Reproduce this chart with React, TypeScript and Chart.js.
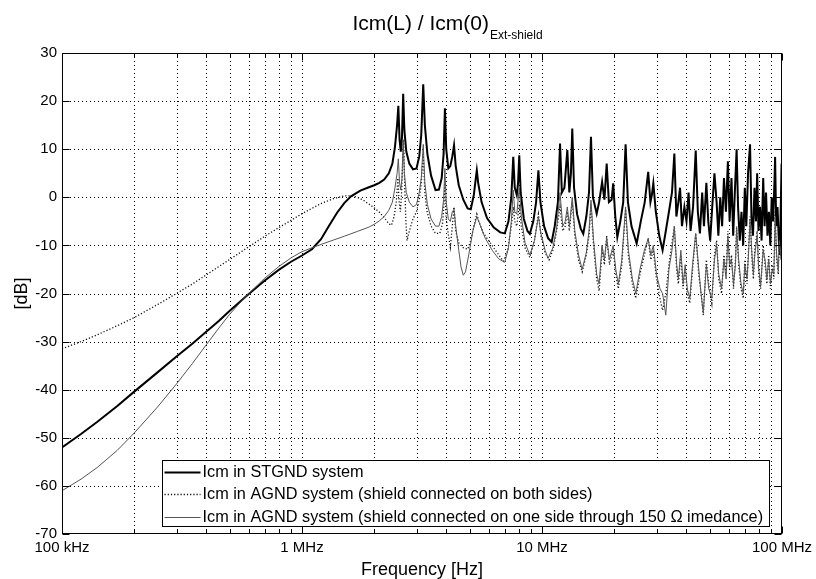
import React, { useEffect, useRef } from "react";
import { Chart, registerables } from "chart.js";

Chart.register(...registerables);

// ---------- texts ----------
const titleMain = "Icm(L) / Icm(0)";
const titleSub = "Ext-shield";
const xAxisTitle = "Frequency [Hz]";
const yAxisTitle = "[dB]";
const seriesNames = [
  "Icm in STGND system",
  "Icm in AGND system (shield connected on both sides)",
  "Icm in AGND system (shield connected on one side through 150 \u03A9 imedance)",
];

// ---------- axes ----------
const xMinHz = 1e5;
const xMaxHz = 1e8;
const xDecadesHz = [1e5, 1e6, 1e7, 1e8];
const xDecadeLabels = ["100 kHz", "1 MHz", "10 MHz", "100 MHz"];
const xMinorMultipliers = [1, 2, 3, 4, 5, 6, 7, 8, 9];
const yMin = -70;
const yMax = 30;
const yTicks = [30, 20, 10, 0, -10, -20, -30, -40, -50, -60, -70];

// ---------- data: [frequency MHz, level dB] ----------
const stgnd: [number, number][] = [
  [0.1, -52], [0.12, -49.2], [0.14, -46.7], [0.17, -43.4], [0.2, -40.4], [0.25, -36.4], [0.3, -33.1],
  [0.35, -30.4], [0.4, -27.9], [0.45, -25.7], [0.5, -23.6], [0.6, -20.1], [0.7, -17.3], [0.8, -15.1],
  [0.9, -13.4], [1.0, -12.1], [1.1, -10.8], [1.2, -8.7], [1.3, -5.8], [1.4, -3.2], [1.5, -1.2], [1.6, 0.2],
  [1.75, 1.4], [1.9, 2.1], [2.0, 2.5], [2.1, 3.0], [2.2, 3.7], [2.3, 5.0], [2.38, 7.0], [2.44, 10.5],
  [2.49, 15], [2.52, 19], [2.55, 12], [2.58, 9.5], [2.61, 12.5], [2.64, 21.5], [2.67, 14], [2.72, 9.5],
  [2.8, 7], [2.9, 5.8], [3.0, 6.0], [3.08, 8.5], [3.14, 13], [3.2, 23.5], [3.25, 15], [3.33, 9], [3.45, 4.5],
  [3.6, 1.5], [3.72, 1.6], [3.82, 4], [3.89, 9], [3.94, 18.5], [3.99, 10], [4.07, 6], [4.15, 6.5], [4.23, 8.5],
  [4.3, 10.8], [4.37, 6.5], [4.5, 2.5], [4.7, -0.5], [4.9, -2.3], [5.05, -2.5], [5.2, 0.5], [5.3, 4],
  [5.35, 5.6], [5.42, 3], [5.6, -1], [5.9, -4.3], [6.3, -6.3], [6.7, -7.3], [7.0, -7.5], [7.25, -5],
  [7.45, 0], [7.59, 8.4], [7.7, 2], [7.85, 0.5], [7.95, 3], [8.04, 8.75], [8.15, 1], [8.4, -4.5], [8.7, -7],
  [8.9, -7.6], [9.2, -5], [9.45, -1], [9.66, 5.6], [9.85, -1], [10.2, -6], [10.6, -8.5], [10.97, -9.3],
  [11.3, -6], [11.65, -1], [11.89, 11.2], [12.1, 1], [12.4, 2], [12.75, 9.8], [13.0, 1], [13.2, 5],
  [13.37, 14.3], [13.6, 2], [14.0, -3.5], [14.5, -6.5], [14.86, -7.6], [15.3, -4], [15.7, 1], [16.0, 12.6],
  [16.3, 0], [16.9, -3.4], [17.3, -1], [17.8, 3.2], [18.2, -0.5], [18.6, 7], [19.0, -1], [19.5, -0.5],
  [19.8, 2.9], [20.2, -4], [20.6, -8.3], [21.2, -5], [21.8, -1], [22.3, 11], [22.8, -1], [23.6, -6],
  [24.8, -9.6], [25.8, -5], [26.8, -1], [27.7, 5.3], [28.3, -1], [28.7, 0.5], [29.1, 2.9], [29.8, -3],
  [30.8, -8], [31.8, -11], [32.8, -7], [33.8, -3], [34.8, 1], [35.6, 9.1], [36.3, -4], [37.0, -1], [37.6, 2],
  [38.3, -6], [39.2, -2], [40.0, -5], [40.8, 1], [41.6, -7], [42.6, -2], [43.7, 9.7], [44.6, -3], [45.5, -7.5],
  [46.5, 1], [47.3, -6], [48.4, 3], [49.3, -5], [50.2, -9], [51.2, -2], [52.3, 5], [53.4, -1], [54.3, -8],
  [55.3, 0], [56.3, -6], [57.3, 4], [58.4, -3], [59.5, 7.5], [60.5, -5], [61.6, 4], [62.6, -8], [63.6, 1],
  [64.7, 10], [65.6, -2], [66.7, -9], [67.8, -3], [68.9, -10], [70.0, 2], [71.0, -6], [72.2, 5], [73.6, 11],
  [74.6, -4], [75.7, -8], [76.8, 2], [77.9, -5], [78.8, 5], [79.8, -7], [81.0, -2], [82.2, -9], [83.5, 4],
  [84.6, -6], [85.8, 1], [87.0, -8], [88.2, -3], [89.4, -10], [90.6, 0], [91.8, -5], [93.0, 3], [93.6, 8.4],
  [94.6, -6], [95.8, -2], [97.0, -9], [98.0, -12], [99.0, 0], [99.6, 7], [100, -3],
];

const agndBoth: [number, number][] = [
  [0.1, -31.5], [0.12, -30.0], [0.14, -28.6], [0.17, -26.7], [0.2, -25.0], [0.25, -22.3], [0.3, -20.0],
  [0.35, -18.0], [0.4, -16.1], [0.5, -12.9], [0.6, -10.3], [0.7, -8.1], [0.8, -6.3], [0.9, -4.8], [1.0, -3.4],
  [1.1, -2.3], [1.2, -1.3], [1.35, -0.3], [1.5, 0.3], [1.6, 0.3], [1.7, 0], [1.8, -0.6], [1.9, -1.4],
  [2.0, -2.2], [2.1, -3.1], [2.2, -4.2], [2.3, -5.5], [2.36, -5.8], [2.42, -4], [2.47, -1], [2.51, 4],
  [2.54, -1], [2.57, -3], [2.6, 1], [2.63, 8], [2.65, 12], [2.68, 2], [2.71, -5], [2.74, -9], [2.8, -7],
  [2.9, -4.5], [3.0, -3], [3.08, -0.5], [3.14, 3], [3.2, 9], [3.25, 1], [3.32, -3], [3.45, -6], [3.6, -7.5],
  [3.75, -7.5], [3.85, -5.5], [3.91, -1], [3.94, 3], [3.98, -4], [4.05, -7], [4.15, -10.4], [4.23, -6],
  [4.3, -2], [4.37, -7], [4.5, -9.5], [4.7, -10.5], [4.9, -10.8], [5.05, -9], [5.2, -6], [5.35, -3.5],
  [5.45, -5], [5.7, -7.5], [6.0, -9], [6.5, -11.5], [6.9, -13.3], [7.2, -11], [7.45, -6], [7.59, -2],
  [7.7, -5], [7.85, -6], [8.04, -1.5], [8.2, -6], [8.5, -10.5], [8.9, -12.5], [9.3, -9], [9.66, -3.5],
  [9.9, -8], [10.3, -11.5], [10.7, -13], [11.1, -11], [11.5, -7], [11.89, -2], [12.2, -7], [12.5, -6],
  [12.75, -3], [13.0, -7], [13.37, -1], [13.7, -8], [14.2, -13], [14.7, -15.5], [15.3, -12], [15.7, -8],
  [16.0, -1.5], [16.4, -10], [16.9, -17], [17.3, -19.5], [17.8, -11], [18.2, -14], [18.6, -8], [19.1, -14],
  [19.8, -11], [20.3, -16], [20.8, -19], [21.5, -14], [22.3, -2.5], [22.9, -12], [23.8, -18], [24.6, -21],
  [25.6, -16], [26.7, -12], [27.7, -8.5], [28.4, -13], [29.1, -11], [30.0, -17], [31.0, -21], [31.8, -23.5],
  [32.8, -20], [34.0, -13], [35.6, -6], [36.4, -15], [37.0, -18], [37.9, -12], [38.7, -19], [39.5, -15],
  [40.3, -20], [41.3, -22], [42.4, -15], [43.7, -7.5], [45.0, -16], [46.0, -20], [47.0, -24.5], [48.4, -13],
  [49.5, -18], [51.0, -22], [52.3, -12], [53.4, -9], [54.5, -17], [56.0, -20], [57.3, -12], [58.5, -16],
  [59.5, -7], [60.5, -15], [61.6, -12], [62.8, -19], [64.0, -13], [64.7, -6], [66.0, -14], [67.5, -19],
  [69.0, -21], [70.0, -13], [71.5, -18], [72.5, -11], [73.6, -4], [75.0, -13], [76.0, -17], [77.0, -11],
  [78.8, -7], [80.0, -16], [81.5, -19], [83.5, -10], [85.0, -14], [86.5, -18], [88.0, -12], [89.5, -19],
  [91.0, -14], [92.5, -17], [93.6, -3], [95.0, -13], [96.5, -16], [97.5, -8], [99.0, -13], [100, -9],
];

const agndOne: [number, number][] = [
  [0.1, -61], [0.12, -58.6], [0.14, -56.2], [0.17, -52.6], [0.2, -49.0], [0.25, -43.6], [0.3, -38.8],
  [0.35, -34.5], [0.4, -30.6], [0.45, -27.2], [0.5, -24.3], [0.55, -22.0], [0.6, -20.0], [0.7, -16.8],
  [0.8, -14.4], [0.9, -12.6], [1.0, -11.3], [1.1, -10.5], [1.2, -9.8], [1.35, -8.9], [1.5, -8.1], [1.7, -7.1],
  [1.9, -6.2], [2.0, -5.6], [2.1, -4.9], [2.2, -4.0], [2.3, -2.7], [2.38, -1], [2.44, 2], [2.49, 5], [2.52, 8],
  [2.55, 3], [2.58, 1.5], [2.61, 4], [2.64, 12], [2.67, 5], [2.72, 1], [2.8, -1], [2.9, -2], [3.0, -1.5],
  [3.08, 1], [3.14, 4], [3.2, 11], [3.25, 3], [3.33, -1.5], [3.45, -4.5], [3.6, -6], [3.72, -6], [3.82, -4],
  [3.89, -0.5], [3.94, 6], [3.99, -1], [4.07, -4.5], [4.15, -5], [4.23, -3], [4.3, -2.5], [4.37, -6],
  [4.5, -11], [4.6, -14.5], [4.7, -16.2], [4.8, -15.5], [4.95, -12], [5.15, -7], [5.35, -4], [5.5, -5.5],
  [5.8, -8.5], [6.2, -11], [6.6, -12.8], [7.0, -13.5], [7.25, -10.5], [7.45, -5], [7.59, 1.5], [7.7, -3],
  [7.85, -3.5], [8.04, 2], [8.2, -4], [8.5, -9.5], [8.9, -12], [9.3, -9], [9.66, -4], [9.9, -7.5],
  [10.3, -11], [10.6, -12.7], [11.1, -10.5], [11.5, -6.5], [11.89, 1], [12.2, -6], [12.5, -5], [12.75, -2],
  [13.0, -6], [13.37, 0], [13.7, -7], [14.2, -12], [14.7, -15], [15.3, -11.5], [15.7, -7], [16.0, -0.6],
  [16.4, -9], [16.9, -16], [17.3, -18], [17.8, -10], [18.2, -13], [18.6, -8.5], [19.1, -13], [19.8, -10],
  [20.3, -15], [20.8, -18], [21.5, -13], [22.3, -2], [22.9, -11], [23.8, -17], [24.6, -20], [25.6, -15],
  [26.7, -11], [27.7, -8.6], [28.4, -12], [29.1, -10], [30.0, -16], [31.0, -19], [31.8, -20], [32.8, -24.5],
  [33.8, -15], [34.8, -11], [35.6, -6.1], [36.4, -14], [37.0, -17], [37.9, -11], [38.7, -18], [39.5, -14],
  [40.3, -19], [41.3, -21], [42.4, -14], [43.7, -7.5], [45.0, -15], [46.0, -20], [47.0, -24], [48.4, -14],
  [49.5, -19], [51.0, -21], [52.3, -13], [53.4, -10], [54.5, -16], [56.0, -19], [57.3, -13], [58.5, -17],
  [59.5, -8], [60.5, -14], [61.6, -13], [62.8, -18], [64.0, -14], [64.7, -6.5], [66.0, -13], [67.5, -18],
  [69.0, -20], [70.0, -14], [71.5, -17], [72.5, -12], [73.6, -4.5], [75.0, -12], [76.0, -16], [77.0, -12],
  [78.8, -8], [80.0, -15], [81.5, -18], [83.5, -11], [85.0, -13], [86.5, -17], [88.0, -13], [89.5, -18],
  [91.0, -15], [92.5, -16], [93.6, -4], [95.0, -12], [96.5, -15], [97.5, -9], [99.0, -12], [100, -8],
];

// ---------- look ----------
const FONT = "'Liberation Sans', Arial, Helvetica, sans-serif";
const styles = [
  { color: "#000000", width: 2, dash: [] as number[] },
  { color: "#111111", width: 1.3, dash: [1.2, 2] },
  { color: "#555555", width: 1, dash: [] as number[] },
];

const toPoints = (s: [number, number][]) => s.map(([f, d]) => ({ x: f * 1e6, y: d }));

const xGridHz: number[] = [];
xDecadesHz.slice(0, 3).forEach((dec) => xMinorMultipliers.forEach((m) => xGridHz.push(dec * m)));
xGridHz.push(xMaxHz);

const axesPlugin = {
  id: "matlabAxes",
  beforeDatasetsDraw(chart: any) {
    const { ctx, chartArea: a, scales } = chart;
    ctx.save();
    ctx.strokeStyle = "#000";
    ctx.lineWidth = 1;
    ctx.setLineDash([1, 3]);
    xGridHz.forEach((v) => {
      const px = Math.round(scales.x.getPixelForValue(v)) + 0.5;
      if (px <= a.left + 1 || px >= a.right - 1) return;
      ctx.beginPath();
      ctx.moveTo(px, a.top);
      ctx.lineTo(px, a.bottom);
      ctx.stroke();
    });
    yTicks.forEach((v) => {
      const py = Math.round(scales.y.getPixelForValue(v)) + 0.5;
      if (py <= a.top + 1 || py >= a.bottom - 1) return;
      ctx.beginPath();
      ctx.moveTo(a.left, py);
      ctx.lineTo(a.right, py);
      ctx.stroke();
    });
    ctx.restore();
  },
  afterDatasetsDraw(chart: any) {
    const { ctx, chartArea: a, scales } = chart;
    const L = Math.round(a.left) + 0.5;
    const R = Math.round(a.right) - 0.5;
    const T = Math.round(a.top) + 0.5;
    const B = Math.round(a.bottom) - 0.5;
    ctx.save();
    ctx.setLineDash([]);
    ctx.strokeStyle = "#000";
    ctx.lineWidth = 1;
    xGridHz.forEach((v) => {
      const px = Math.round(scales.x.getPixelForValue(v)) + 0.5;
      const major = xDecadesHz.includes(v);
      const len = major ? 7 : 3.6;
      ctx.beginPath();
      ctx.moveTo(px, B);
      ctx.lineTo(px, B - len);
      ctx.moveTo(px, T);
      ctx.lineTo(px, T + len);
      ctx.stroke();
    });
    yTicks.forEach((v) => {
      const py = Math.round(scales.y.getPixelForValue(v)) + 0.5;
      ctx.beginPath();
      ctx.moveTo(L, py);
      ctx.lineTo(L + 7, py);
      ctx.moveTo(R, py);
      ctx.lineTo(R - 7, py);
      ctx.stroke();
    });
    ctx.strokeRect(L, T, R - L, B - T);

    // legend box
    const bx = 162.5, by = 460.5, bw = 607, bh = 66;
    ctx.fillStyle = "#fff";
    ctx.fillRect(bx, by, bw, bh);
    ctx.strokeStyle = "#000";
    ctx.strokeRect(bx, by, bw, bh);
    ctx.font = `16.3px ${FONT}`;
    ctx.textBaseline = "middle";
    ctx.textAlign = "left";
    seriesNames.forEach((name, i) => {
      const yy = by + 11 + i * 22.5;
      const st = styles[i];
      ctx.strokeStyle = st.color;
      ctx.lineWidth = st.width;
      ctx.setLineDash(st.dash);
      ctx.beginPath();
      ctx.moveTo(bx + 2, Math.round(yy) + 0.5);
      ctx.lineTo(bx + 38, Math.round(yy) + 0.5);
      ctx.stroke();
      ctx.fillStyle = "#000";
      ctx.fillText(name, bx + 40, yy + 1);
    });
    ctx.restore();
  },
  afterDraw(chart: any) {
    const { ctx, chartArea: a } = chart;
    const cx = (a.left + a.right) / 2;
    ctx.save();
    ctx.fillStyle = "#000";
    ctx.textBaseline = "alphabetic";
    ctx.textAlign = "left";
    ctx.font = `21px ${FONT}`;
    const wMain = ctx.measureText(titleMain).width;
    ctx.font = `12px ${FONT}`;
    const wSub = ctx.measureText(titleSub).width;
    const x0 = cx + 25 - (wMain + wSub) / 2;
    ctx.font = `21px ${FONT}`;
    ctx.fillText(titleMain, x0, 30);
    ctx.font = `12px ${FONT}`;
    ctx.fillText(titleSub, x0 + wMain + 1, 39);

    ctx.font = `18px ${FONT}`;
    ctx.textAlign = "center";
    ctx.fillText(xAxisTitle, cx, 575);
    ctx.translate(27, (a.top + a.bottom) / 2);
    ctx.rotate(-Math.PI / 2);
    ctx.fillText(yAxisTitle, 0, 0);
    ctx.restore();
  },
};

export default function App() {
  const ref = useRef<HTMLCanvasElement | null>(null);
  useEffect(() => {
    if (!ref.current) return;
    const series = [toPoints(stgnd), toPoints(agndBoth), toPoints(agndOne)];
    const order = [2, 1, 0];
    const chart = new Chart(ref.current, {
      type: "line",
      data: {
        datasets: order.map((i) => ({
          label: seriesNames[i],
          data: series[i],
          borderColor: styles[i].color,
          borderWidth: styles[i].width,
          borderDash: styles[i].dash,
          pointRadius: 0,
          tension: 0,
          fill: false,
        })),
      },
      options: {
        animation: false,
        responsive: false,
        devicePixelRatio: 1,
        parsing: false,
        normalized: true,
        layout: { padding: { left: 0, right: 34, top: 53, bottom: 0 } },
        plugins: { legend: { display: false }, title: { display: false }, tooltip: { enabled: false } },
        events: [],
        scales: {
          x: {
            type: "logarithmic",
            min: xMinHz,
            max: xMaxHz,
            position: "bottom",
            grid: { display: false, drawTicks: false },
            border: { display: false },
            afterBuildTicks: (s: any) => {
              s.ticks = xGridHz.map((v) => ({ value: v }));
            },
            afterFit: (s: any) => {
              s.height = 45;
              s.paddingLeft = 0;
              s.paddingRight = 0;
            },
            ticks: {
              autoSkip: false,
              maxRotation: 0,
              minRotation: 0,
              padding: 5,
              color: "#000",
              font: { family: FONT, size: 15 },
              callback: (v: any) => {
                const k = xDecadesHz.indexOf(Number(v));
                return k >= 0 ? xDecadeLabels[k] : "";
              },
            },
          },
          y: {
            type: "linear",
            min: yMin,
            max: yMax,
            grid: { display: false, drawTicks: false },
            border: { display: false },
            afterBuildTicks: (s: any) => {
              s.ticks = yTicks.map((v) => ({ value: v }));
            },
            afterFit: (s: any) => {
              s.width = 62;
              s.paddingTop = 0;
              s.paddingBottom = 0;
            },
            ticks: {
              padding: 5,
              color: "#000",
              font: { family: FONT, size: 15 },
            },
          },
        },
      },
      plugins: [axesPlugin],
    } as any);
    return () => chart.destroy();
  }, []);
  return (
    <div style={{ position: "absolute", left: 0, top: 0, width: 816, height: 579, background: "#fff" }}>
      <canvas ref={ref} width={816} height={579} style={{ display: "block", width: 816, height: 579 }} />
    </div>
  );
}
